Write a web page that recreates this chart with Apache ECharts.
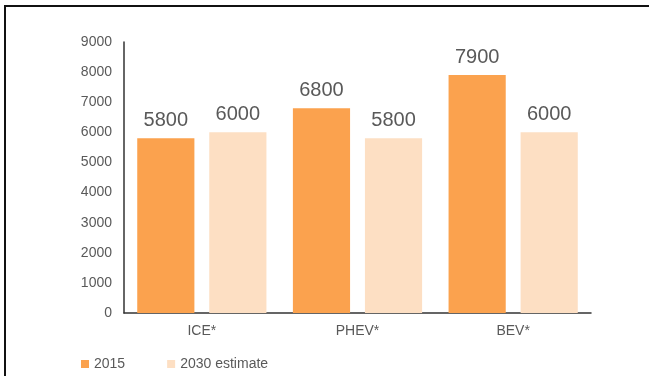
<!DOCTYPE html>
<html>
<head>
<meta charset="utf-8">
<script src="https://cdn.jsdelivr.net/npm/echarts@6/dist/echarts.min.js"></script>
<style>
  html, body { margin: 0; padding: 0; background: #fff; }
  #frame {
    position: absolute; left: 4px; top: 5px; width: 700px; height: 400px;
    border-top: 2px solid #111; border-left: 2px solid #111;
  }
  #main { position: absolute; left: 0; top: 0; width: 649px; height: 376px; }
</style>
</head>
<body>
<div id="frame"></div>
<div id="main"></div>
<script>
const categories = ['ICE*', 'PHEV*', 'BEV*'];
const values2015 = [5800, 6800, 7900];
const values2030 = [6000, 5800, 6000];
const yTicks = [0, 1000, 2000, 3000, 4000, 5000, 6000, 7000, 8000, 9000];

let myChart = echarts.init(document.getElementById('main'));
let option = {
  animation: false,
  textStyle: { fontFamily: 'Liberation Sans, Arial, sans-serif' },
  grid: { left: 124, right: 58, top: 42, bottom: 63 },
  legend: {
    left: 76, top: 352,
    itemWidth: 8, itemHeight: 8, itemGap: 42,
    icon: 'rect',
    textStyle: { color: '#595959', fontSize: 14 },
    data: ['2015', '2030 estimate']
  },
  xAxis: {
    type: 'category',
    data: categories,
    axisTick: { show: false },
    axisLine: { lineStyle: { color: '#333', width: 1.5 } },
    axisLabel: { color: '#595959', fontSize: 14, margin: 11 }
  },
  yAxis: {
    type: 'value',
    min: yTicks[0],
    max: yTicks[yTicks.length - 1],
    interval: 1000,
    axisLine: { show: true, lineStyle: { color: '#333', width: 1.5 } },
    axisTick: { show: false },
    splitLine: { show: false },
    axisLabel: { color: '#595959', fontSize: 14, margin: 12, formatter: v => String(v) }
  },
  series: [
    {
      name: '2015',
      type: 'bar',
      data: values2015,
      barGap: '26%',
      barCategoryGap: '17%',
      itemStyle: { color: '#FBA24E' },
      label: { show: true, position: 'top', distance: 8, color: '#595959', fontSize: 20 }
    },
    {
      name: '2030 estimate',
      type: 'bar',
      data: values2030,
      itemStyle: { color: '#FDDFC3' },
      label: { show: true, position: 'top', distance: 8, color: '#595959', fontSize: 20 }
    }
  ]
};
myChart.setOption(option);
</script>
</body>
</html>
